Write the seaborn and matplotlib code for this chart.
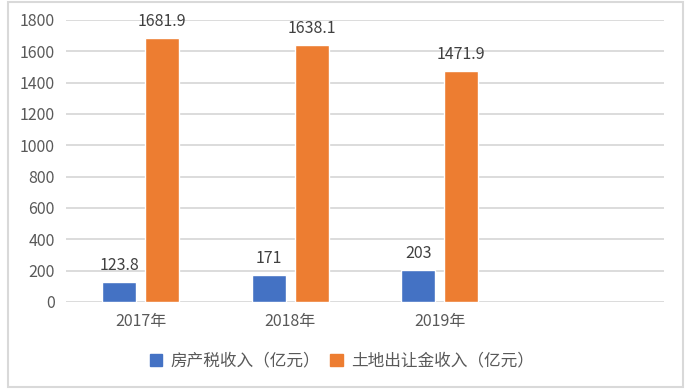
import pandas as pd
import numpy as np
import seaborn as sns
import matplotlib.pyplot as plt
from matplotlib.patches import Rectangle

# Chart values
years = ['2017年', '2018年', '2019年']
property_tax = [123.8, 171, 203]
land_sale = [1681.9, 1638.1, 1471.9]
series_names = ['房产税收入（亿元）', '土地出让金收入（亿元）']
y_ticks = [0, 200, 400, 600, 800, 1000, 1200, 1400, 1600, 1800]

df = pd.DataFrame({
    'year': years * 2,
    'value': property_tax + land_sale,
    'series': [series_names[0]] * 3 + [series_names[1]] * 3,
})

sns.set_style("white")
plt.rcParams['font.family'] = ['Noto Sans CJK SC', 'DejaVu Sans']

fig = plt.figure(figsize=(7, 3.89), dpi=100)
ax = fig.add_axes([0.094, 0.224, 0.855, 0.725])

sns.barplot(data=df, x='year', y='value', hue='series', order=years,
            palette=['#4472C4', '#ED7D31'], width=0.575, gap=0.21,
            saturation=1, ax=ax, legend=False)

# data labels
for cont in ax.containers:
    labels = ['%g' % v for v in cont.datavalues]
    ax.bar_label(cont, labels=labels, padding=6, fontsize=11.5, color='#404040')

# leave the empty fourth slot like the original sheet
ax.set_xlim(-0.5, 3.5)
ax.set_ylim(0, 1800)
ax.set_yticks(y_ticks)
ax.yaxis.grid(True, color='#D9D9D9', linewidth=1.3)
ax.set_axisbelow(True)
for s in ax.spines.values():
    s.set_visible(False)
ax.tick_params(axis='both', length=0, labelsize=11.5, labelcolor='#595959', pad=8)
ax.set_xlabel('')
ax.set_ylabel('')

handles = [plt.Rectangle((0, 0), 1, 1, color=c) for c in ['#4472C4', '#ED7D31']]
fig.legend(handles, series_names, loc='center', bbox_to_anchor=(342 / 700, 1 - 361 / 389),
           ncol=2, frameon=False, fontsize=12, handlelength=0.75, handleheight=0.75,
           columnspacing=0.6, handletextpad=0.5, labelcolor='#595959')

# outer chart border
fig.patches.append(Rectangle((8 / 700, 2 / 389), 675 / 700, 385 / 389,
                             transform=fig.transFigure, fill=False,
                             edgecolor='#D9D9D9', linewidth=1.5))

plt.savefig('out.png', dpi=100)
